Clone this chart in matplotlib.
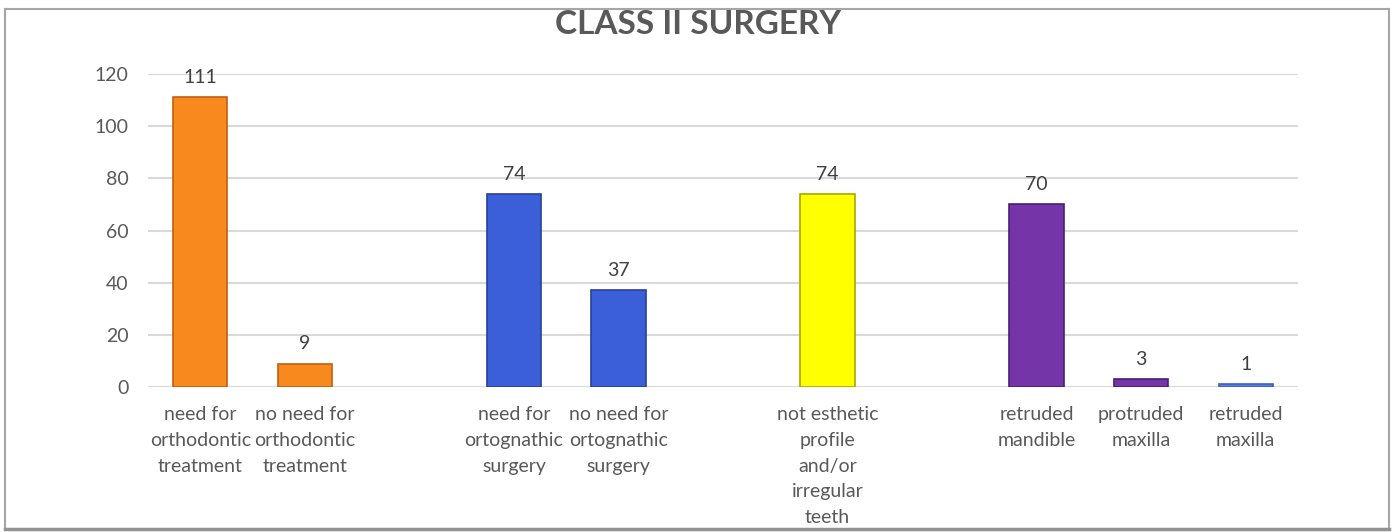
import matplotlib
matplotlib.use("Agg")
import matplotlib.pyplot as plt
import numpy as np
from matplotlib.lines import Line2D

categories = [
    "need for\northodontic\ntreatment",
    "no need for\northodontic\ntreatment",
    "",
    "need for\nortognathic\nsurgery",
    "no need for\nortognathic\nsurgery",
    "",
    "not esthetic\nprofile\nand/or\nirregular\nteeth",
    "",
    "retruded\nmandible",
    "protruded\nmaxilla",
    "retruded\nmaxilla",
]
values = [111, 9, np.nan, 74, 37, np.nan, 74, np.nan, 70, 3, 1]
colors = ["#F7891F", "#F7891F", "none", "#3A5FD8", "#3A5FD8", "none",
          "#FFFF00", "none", "#7335A8", "#7335A8", "#5B7FE0"]
edges = ["#C0600E", "#C0600E", "none", "#28409A", "#28409A", "none",
         "#A8A800", "none", "#4A1F72", "#4A1F72", "#3E5FC0"]
yticks = [0, 20, 40, 60, 80, 100, 120]
title = "CLASS II SURGERY"

plt.rcParams['font.family'] = ['Lato', 'DejaVu Sans']

fig = plt.figure(figsize=(13.96, 5.32), dpi=100)
ax = fig.add_axes([148/1396, 1-387/532, 1150/1396, (387-74)/532])

x = np.arange(len(categories))
bars = ax.bar(x, values, width=0.52, color=colors, edgecolor=edges, linewidth=1.2, zorder=3)

for xi, v in zip(x, values):
    if not np.isnan(v):
        ax.annotate(f"{int(v)}", (xi, v), xytext=(0, 8), textcoords="offset points",
                    ha="center", va="bottom", fontsize=14, color="#404040")

ax.set_xlim(-0.5, len(categories)-0.5)
ax.set_ylim(0, 120)
ax.set_yticks(yticks)
ax.set_xticks(x)
ax.set_xticklabels(categories, fontsize=14, color="#595959", linespacing=1.62)
ax.tick_params(axis='both', length=0, labelsize=14, labelcolor="#595959")
ax.tick_params(axis='x', pad=14)
ax.tick_params(axis='y', pad=14)
ax.yaxis.grid(True, color="#D9D9D9", linewidth=1.5, zorder=0)
for s in ax.spines.values():
    s.set_visible(False)

fig.text(0.5, 1-25/532, title, ha="center", va="center", fontsize=24,
         fontweight="bold", color="#595959")

# figure frame
fig.add_artist(Line2D([5/1396, 1389/1396], [1-9/532, 1-9/532], color="#A6A6A6", lw=1.5, transform=fig.transFigure))
fig.add_artist(Line2D([5/1396, 5/1396], [1-9/532, 1-529/532], color="#A6A6A6", lw=1.5, transform=fig.transFigure))
fig.add_artist(Line2D([1389/1396, 1389/1396], [1-9/532, 1-529/532], color="#A6A6A6", lw=1.5, transform=fig.transFigure))
fig.add_artist(Line2D([5/1396, 1389/1396], [1-529/532, 1-529/532], color="#939393", lw=2.5, transform=fig.transFigure))

fig.savefig("out.png", dpi=100, facecolor="white")
